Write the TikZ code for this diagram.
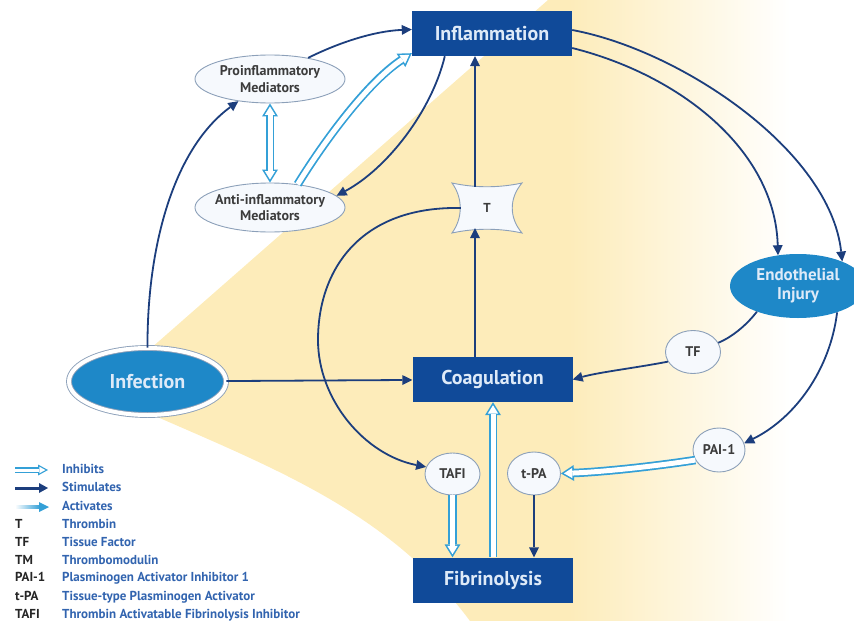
\documentclass[tikz,border=0pt]{standalone}
\usepackage{fontspec}
\setmainfont{PT Sans}
\usetikzlibrary{arrows.meta,shapes.geometric}

\definecolor{boxblue}{RGB}{16,74,153}
\definecolor{boxtext}{RGB}{222,234,248}
\definecolor{navy}{RGB}{28,62,125}
\definecolor{lightb}{RGB}{52,160,215}
\definecolor{blueE}{RGB}{30,136,200}
\definecolor{bubbleline}{RGB}{140,160,185}
\definecolor{bubblefill}{RGB}{246,249,253}
\definecolor{labelgray}{RGB}{60,60,60}
\definecolor{legblue}{RGB}{50,100,175}
\definecolor{wedgeY}{RGB}{253,236,186}

\tikzset{
  box/.style={rectangle, fill=boxblue, minimum width=160pt, minimum height=45pt,
    inner sep=0pt, text=boxtext, font=\bfseries\fontsize{20}{22}\selectfont},
  bubble/.style={ellipse, draw=bubbleline, line width=0.9pt, fill=bubblefill,
    inner sep=0pt, inner xsep=-9pt, text=labelgray, align=center,
    font=\bfseries\fontsize{14}{16.5}\selectfont},
  smallbubble/.style={bubble, font=\bfseries\fontsize{14}{16}\selectfont},
  stim/.style={draw=navy, line width=1.8pt, -{Triangle[length=10pt,width=10pt,line width=0pt]}},
  link/.style={draw=navy, line width=1.8pt},
  inh/.style={draw=lightb, line width=8.5pt,
    -{Triangle[length=13pt,width=16pt,line width=0pt]},
    postaction={draw=white, line width=5pt,
      -{Triangle[length=8.3pt,width=10.3pt,line width=0pt]}, shorten >=3.06pt}},
  inhboth/.style={draw=lightb, line width=8.5pt,
    {Triangle[length=13pt,width=16pt,line width=0pt]}-{Triangle[length=13pt,width=16pt,line width=0pt]},
    postaction={draw=white, line width=5pt,
      {Triangle[length=8.3pt,width=10.3pt,line width=0pt]}-{Triangle[length=8.3pt,width=10.3pt,line width=0pt]},
      shorten >=3.06pt, shorten <=3.06pt}},
  inhkey/.style={draw=lightb, line width=6pt,
    -{Triangle[length=10pt,width=11pt,line width=0pt]},
    postaction={draw=white, line width=3pt,
      -{Triangle[length=6pt,width=6.6pt,line width=0pt]}, shorten >=2.6pt}},
  legtext/.style={anchor=west, inner sep=0pt, text=legblue, text height=9pt, text depth=2.5pt,
    font=\bfseries\fontsize{13}{13}\selectfont},
  legabbr/.style={legtext, text=black!85}
}

\begin{document}
\begin{tikzpicture}[x=1pt,y=-1pt]
\useasboundingbox (0,0) rectangle (854,621);

% light wedge behind the diagram, fading out to the right
\begin{scope}
  \clip (101,392) -- (548,0) -- (854,0) -- (854,621) -- (470,621)
        .. controls (380,500) and (250,460) .. (101,392) -- cycle;
  \fill[wedgeY] (0,0) rectangle (570,621);
  \shade[left color=wedgeY, right color=white] (569,0) rectangle (790,621);
\end{scope}

% concave outline of the thrombin marker
\draw[draw=bubbleline, line width=0.9pt, fill=bubblefill]
  (452,183) .. controls (475,188) and (499,188) .. (522,183)
  .. controls (509,198) and (509,218) .. (522,233)
  .. controls (499,228) and (475,228) .. (452,233)
  .. controls (463,218) and (463,198) .. (452,183) -- cycle;

% main process boxes
\node[box] (infl) at (492,33.5) {Inflammation};
\node[box] (coag) at (492.5,379.5) {Coagulation};
\node[box] (fib) at (493,580) {Fibrinolysis};

% mediators and factors
\node[bubble, minimum width=150pt, minimum height=48pt] (pro) at (270,79) {Proinflammatory\\Mediators};
\node[bubble, minimum width=150pt, minimum height=49pt] (anti) at (270,207.5) {Anti-inflammatory\\Mediators};
\node[minimum width=70pt, minimum height=50pt, inner sep=0pt, text=labelgray,
      font=\bfseries\fontsize{13}{14}\selectfont] (T) at (487,208) {T};
\node[smallbubble, minimum width=55pt, minimum height=43pt] (tf) at (693,352) {TF};
\node[smallbubble, minimum width=52pt, minimum height=44pt] (pai) at (719,450) {PAI-1};
\node[smallbubble, minimum width=55pt, minimum height=42pt] (tafi) at (452.5,474) {TAFI};
\node[smallbubble, minimum width=53pt, minimum height=43pt] (tpa) at (534,473.5) {t-PA};

% filled ellipses
\node[ellipse, fill=blueE, draw=bubbleline, double=white, double distance=4pt, line width=0.9pt,
      minimum width=157pt, minimum height=67pt, inner sep=0pt, text=boxtext,
      font=\bfseries\fontsize{20}{22}\selectfont] (inf) at (147.5,381.5) {Infection};
\node[ellipse, fill=blueE, minimum width=136pt, minimum height=64pt, inner sep=0pt,
      text=boxtext, align=center, font=\bfseries\fontsize{17}{19}\selectfont] (endo) at (798,286) {Endothelial\\Injury};

% stimulating links
\draw[stim] (inf.north) .. controls (147,250) and (172,150) .. (pro.215);
\draw[stim] (pro.29) .. controls (340,42) and (375,31) .. ([yshift=4pt]infl.west);
\draw[stim] ([xshift=33pt]infl.south west) .. controls (432,110) and (388,168) .. (anti.10);
\draw[stim] ([yshift=3.5pt]infl.east) .. controls (680,50) and (830,150) .. (endo.29);
\draw[stim] ([yshift=-14.5pt]infl.east) .. controls (680,75) and (775,150) .. (endo.123);
\draw[stim] ([xshift=-12pt,yshift=-4pt]T.north) -- ([xshift=-12pt]T.north |- infl.south);
\draw[stim] ([xshift=-12pt]T.south |- coag.north) -- ([xshift=-12pt,yshift=5pt]T.south);
\draw[stim] ([xshift=9pt]T.west) .. controls (360,206) and (318,270) .. (318,340)
  .. controls (318,400) and (365,455) .. (tafi.165);
\draw[stim] (inf) -- (coag);
\draw[link] (endo.212) .. controls (745,327) and (730,338) .. (tf.20);
\draw[stim] (tf.201) .. controls (635,368) and (600,372) .. (coag.east);
\draw[stim] (endo.326) .. controls (830,370) and (795,418) .. (pai.15);
\draw[stim] (tpa.south) -- (tpa.south |- fib.north);

% inhibiting links
\draw[inh] (anti.40) .. controls (325,140) and (368,82) .. ([yshift=3pt]infl.south west);
\draw[inhboth] (pro.south) -- (anti.north);
\draw[inh] (pai.203) .. controls (650,467) and (600,472) .. (tpa.east);
\draw[inh] (tafi.south) -- (tafi.south |- fib.north);
\draw[inh] (fib.north) -- (fib.north |- coag.south);

% key
\draw[inhkey] (15,470) -- (48,470);
\draw[draw=navy, line width=3pt, -{Triangle[length=9pt,width=10pt,line width=0pt]}] (15,488) -- (48,488);
\shade[left color=white, right color=lightb] (15,505.5) rectangle (40,508.5);
\fill[lightb] (39,502) -- (49,507) -- (39,512) -- cycle;

\node[legtext] at (62,470) {Inhibits};
\node[legtext] at (62,488) {Stimulates};
\node[legtext] at (62,507) {Activates};
\node[legabbr] at (15,525) {T};
\node[legtext] at (62,525) {Thrombin};
\node[legabbr] at (15,543) {TF};
\node[legtext] at (62,543) {Tissue Factor};
\node[legabbr] at (15,561) {TM};
\node[legtext] at (62,561) {Thrombomodulin};
\node[legabbr] at (15,578) {PAI-1};
\node[legtext] at (62,578) {Plasminogen Activator Inhibitor 1};
\node[legabbr] at (15,597) {t-PA};
\node[legtext] at (62,597) {Tissue-type Plasminogen Activator};
\node[legabbr] at (15,615) {TAFI};
\node[legtext] at (62,615) {Thrombin Activatable Fibrinolysis Inhibitor};
\end{tikzpicture}
\end{document}
